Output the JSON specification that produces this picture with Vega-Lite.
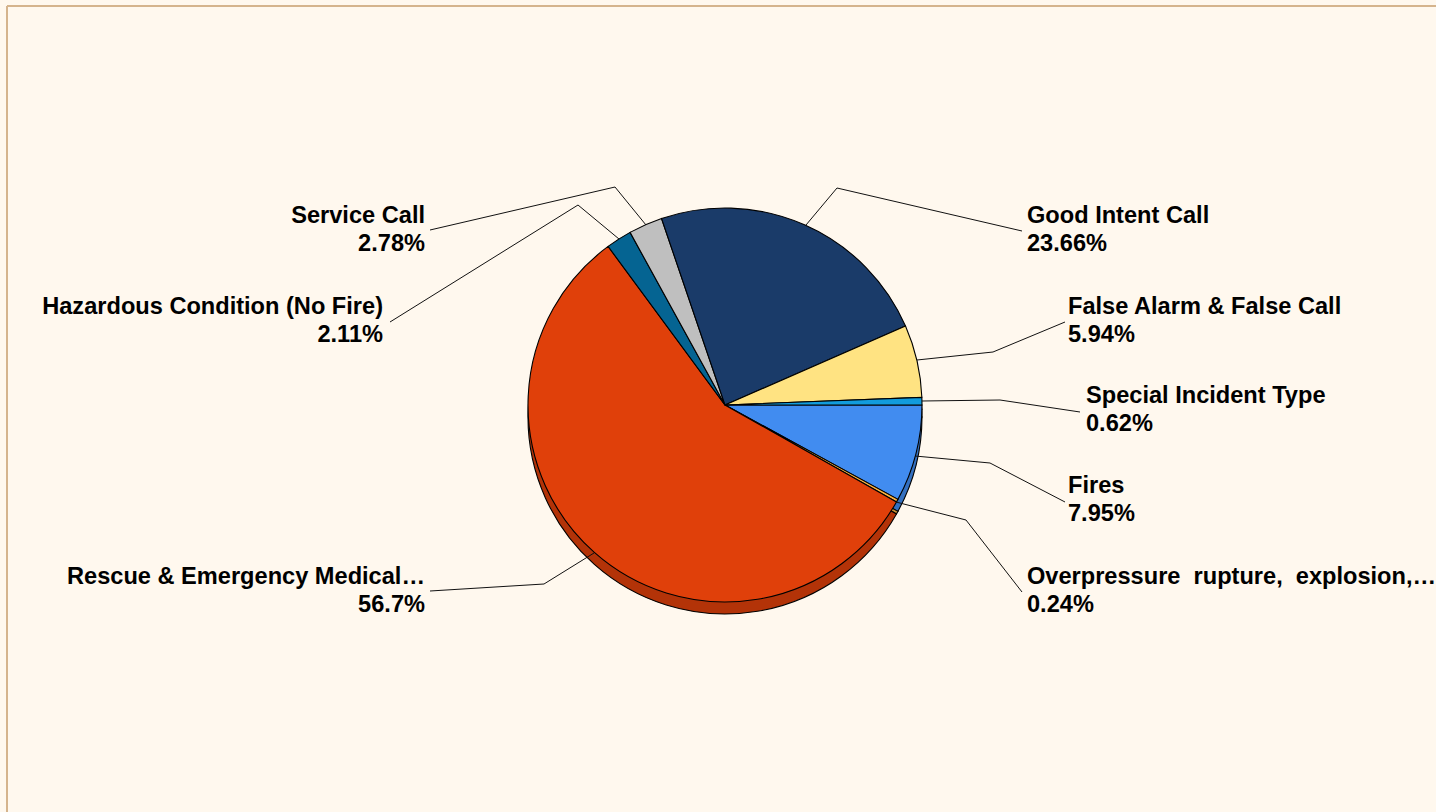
{
  "$schema": "https://vega.github.io/schema/vega-lite/v6.json",
  "width": 1429,
  "height": 806,
  "autosize": {"type": "none"},
  "padding": {"left": 7, "top": 6, "right": 0, "bottom": 0},
  "background": "#FFF8EE",
  "config": {
    "view": {"stroke": null, "fill": "#FFF8EE"},
    "font": "Liberation Sans"
  },
  "datasets": {
    "slices": [
      {"category": "Fires", "pct": 7.95},
      {"category": "Overpressure rupture, explosion,…", "pct": 0.24},
      {"category": "Rescue & Emergency Medical…", "pct": 56.7},
      {"category": "Hazardous Condition (No Fire)", "pct": 2.11},
      {"category": "Service Call", "pct": 2.78},
      {"category": "Good Intent Call", "pct": 23.66},
      {"category": "False Alarm & False Call", "pct": 5.94},
      {"category": "Special Incident Type", "pct": 0.62}
    ],
    "leaders": [
      {"category": "Good Intent Call", "step": 0, "x": 0.81, "y": 1.80},
      {"category": "Good Intent Call", "step": 1, "x": 1.12, "y": 2.17},
      {"category": "Good Intent Call", "step": 2, "x": 2.97, "y": 1.74},
      {"category": "False Alarm & False Call", "step": 0, "x": 1.92, "y": 0.45},
      {"category": "False Alarm & False Call", "step": 1, "x": 2.68, "y": 0.53},
      {"category": "False Alarm & False Call", "step": 2, "x": 3.40, "y": 0.83},
      {"category": "Special Incident Type", "step": 0, "x": 1.97, "y": 0.04},
      {"category": "Special Incident Type", "step": 1, "x": 2.75, "y": 0.05},
      {"category": "Special Incident Type", "step": 2, "x": 3.55, "y": -0.07},
      {"category": "Fires", "step": 0, "x": 1.90, "y": -0.51},
      {"category": "Fires", "step": 1, "x": 2.65, "y": -0.58},
      {"category": "Fires", "step": 2, "x": 3.40, "y": -0.97},
      {"category": "Overpressure rupture, explosion,…", "step": 0, "x": 1.71, "y": -0.97},
      {"category": "Overpressure rupture, explosion,…", "step": 1, "x": 2.41, "y": -1.15},
      {"category": "Overpressure rupture, explosion,…", "step": 2, "x": 2.97, "y": -1.87},
      {"category": "Rescue & Emergency Medical…", "step": 0, "x": -1.31, "y": -1.48},
      {"category": "Rescue & Emergency Medical…", "step": 1, "x": -1.81, "y": -1.79},
      {"category": "Rescue & Emergency Medical…", "step": 2, "x": -2.95, "y": -1.86},
      {"category": "Hazardous Condition (No Fire)", "step": 0, "x": -1.06, "y": 1.66},
      {"category": "Hazardous Condition (No Fire)", "step": 1, "x": -1.47, "y": 2.00},
      {"category": "Hazardous Condition (No Fire)", "step": 2, "x": -3.35, "y": 0.83},
      {"category": "Service Call", "step": 0, "x": -0.79, "y": 1.80},
      {"category": "Service Call", "step": 1, "x": -1.10, "y": 2.18},
      {"category": "Service Call", "step": 2, "x": -2.95, "y": 1.75}
    ],
    "labels": [
      {"category": "Good Intent Call", "name": "Good Intent Call", "side": "right", "x": 3.02, "y": 1.82},
      {"category": "False Alarm & False Call", "name": "False Alarm & False Call", "side": "right", "x": 3.43, "y": 0.91},
      {"category": "Special Incident Type", "name": "Special Incident Type", "side": "right", "x": 3.61, "y": 0.02},
      {"category": "Fires", "name": "Fires", "side": "right", "x": 3.43, "y": -0.88},
      {"category": "Overpressure rupture, explosion,…", "name": "Overpressure\u00a0 rupture,\u00a0 explosion,…", "side": "right", "x": 3.02, "y": -1.79},
      {"category": "Service Call", "name": "Service Call", "side": "left", "x": -3.00, "y": 1.82},
      {"category": "Hazardous Condition (No Fire)", "name": "Hazardous Condition (No Fire)", "side": "left", "x": -3.42, "y": 0.91},
      {"category": "Rescue & Emergency Medical…", "name": "Rescue & Emergency Medical…", "side": "left", "x": -3.00, "y": -1.79}
    ]
  },
  "layer": [
    {
      "data": {"values": [{}]},
      "mark": {"type": "rule", "stroke": "#D5B48D", "strokeWidth": 2},
      "encoding": {
        "x": {"datum": -7.18, "type": "quantitative", "scale": {"domain": [-7.18, 7.11], "nice": false, "zero": false}, "axis": null}
      }
    },
    {
      "data": {"values": [{}]},
      "mark": {"type": "rule", "stroke": "#D5B48D", "strokeWidth": 2},
      "encoding": {
        "y": {"datum": 3.99, "type": "quantitative", "scale": {"domain": [-4.07, 3.99], "nice": false, "zero": false}, "axis": null}
      }
    },
    {
      "data": {"name": "slices"},
      "transform": [{"window": [{"op": "row_number", "as": "idx"}]}],
      "mark": {"type": "arc", "outerRadius": 197, "stroke": "#000000", "strokeWidth": 1.1},
      "encoding": {
        "theta": {"field": "pct", "type": "quantitative", "stack": true, "scale": {"domain": [0, 100], "range": [1.5707963, 7.8539816]}},
        "order": {"field": "idx", "type": "quantitative"},
        "fill": {"field": "category", "type": "nominal", "legend": null,
          "scale": {"domain": ["Fires", "Overpressure rupture, explosion,…", "Rescue & Emergency Medical…", "Hazardous Condition (No Fire)", "Service Call", "Good Intent Call", "False Alarm & False Call", "Special Incident Type"],
                    "range": ["#3470C0", "#C99035", "#B33308", "#045075", "#999999", "#152F54", "#CCB668", "#0E7DB1"]}},
        "x": {"datum": 0, "type": "quantitative", "scale": {"domain": [-7.18, 7.11], "nice": false, "zero": false}, "axis": null},
        "y": {"datum": -0.12, "type": "quantitative", "scale": {"domain": [-4.07, 3.99], "nice": false, "zero": false}, "axis": null}
      }
    },
    {
      "data": {"name": "slices"},
      "transform": [{"window": [{"op": "row_number", "as": "idx"}]}],
      "mark": {"type": "arc", "outerRadius": 197, "stroke": "#000000", "strokeWidth": 1.1},
      "encoding": {
        "theta": {"field": "pct", "type": "quantitative", "stack": true, "scale": {"domain": [0, 100], "range": [1.5707963, 7.8539816]}},
        "order": {"field": "idx", "type": "quantitative"},
        "color": {"field": "category", "type": "nominal", "legend": null,
          "scale": {"domain": ["Fires", "Overpressure rupture, explosion,…", "Rescue & Emergency Medical…", "Hazardous Condition (No Fire)", "Service Call", "Good Intent Call", "False Alarm & False Call", "Special Incident Type"],
                    "range": ["#418CF0", "#FCB441", "#E0400A", "#056492", "#BFBFBF", "#1A3B69", "#FFE382", "#129CDD"]}},
        "x": {"datum": 0, "type": "quantitative", "scale": {"domain": [-7.18, 7.11], "nice": false, "zero": false}, "axis": null},
        "y": {"datum": 0, "type": "quantitative", "scale": {"domain": [-4.07, 3.99], "nice": false, "zero": false}, "axis": null}
      }
    },
    {
      "data": {"name": "leaders"},
      "mark": {"type": "line", "stroke": "#111111", "strokeWidth": 1},
      "encoding": {
        "x": {"field": "x", "type": "quantitative", "scale": {"domain": [-7.18, 7.11], "nice": false, "zero": false}, "axis": null},
        "y": {"field": "y", "type": "quantitative", "scale": {"domain": [-4.07, 3.99], "nice": false, "zero": false}, "axis": null},
        "detail": {"field": "category", "type": "nominal"},
        "order": {"field": "step", "type": "quantitative"}
      }
    },
    {
      "data": {"name": "labels"},
      "transform": [
        {"filter": "datum.side == 'right'"},
        {"lookup": "category", "from": {"data": {"name": "slices"}, "key": "category", "fields": ["pct"]}},
        {"calculate": "datum.name + '\\n' + datum.pct + '%'", "as": "text"}
      ],
      "mark": {"type": "text", "align": "left", "baseline": "alphabetic", "lineBreak": "\n", "lineHeight": 28, "fontSize": 23.6, "fontWeight": "bold", "font": "Liberation Sans", "color": "#000000"},
      "encoding": {
        "x": {"field": "x", "type": "quantitative", "scale": {"domain": [-7.18, 7.11], "nice": false, "zero": false}, "axis": null},
        "y": {"field": "y", "type": "quantitative", "scale": {"domain": [-4.07, 3.99], "nice": false, "zero": false}, "axis": null},
        "text": {"field": "text", "type": "nominal"}
      }
    },
    {
      "data": {"name": "labels"},
      "transform": [
        {"filter": "datum.side == 'left'"},
        {"lookup": "category", "from": {"data": {"name": "slices"}, "key": "category", "fields": ["pct"]}},
        {"calculate": "datum.name + '\\n' + datum.pct + '%'", "as": "text"}
      ],
      "mark": {"type": "text", "align": "right", "baseline": "alphabetic", "lineBreak": "\n", "lineHeight": 28, "fontSize": 23.6, "fontWeight": "bold", "font": "Liberation Sans", "color": "#000000"},
      "encoding": {
        "x": {"field": "x", "type": "quantitative", "scale": {"domain": [-7.18, 7.11], "nice": false, "zero": false}, "axis": null},
        "y": {"field": "y", "type": "quantitative", "scale": {"domain": [-4.07, 3.99], "nice": false, "zero": false}, "axis": null},
        "text": {"field": "text", "type": "nominal"}
      }
    }
  ]
}
